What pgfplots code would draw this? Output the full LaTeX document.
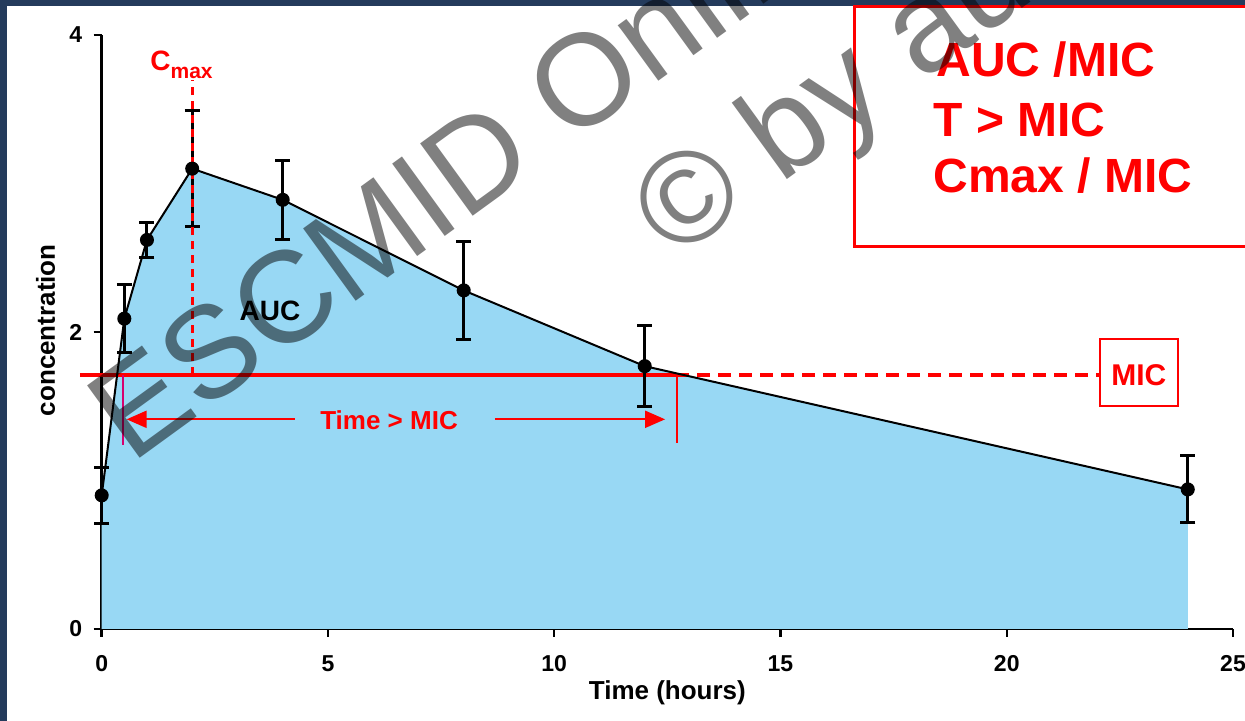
\documentclass[border=0pt]{standalone}
\usepackage{pgfplots}
\pgfplotsset{compat=1.18}
\usepackage{pgfplotstable}
\usepackage{fontspec}
\setmainfont{Liberation Sans}
\usetikzlibrary{arrows.meta}

\definecolor{frameblue}{RGB}{36,59,92}
\definecolor{aucfill}{RGB}{152,216,244}
\definecolor{pkred}{RGB}{255,0,0}
\definecolor{micmag}{RGB}{214,0,110}
\definecolor{wmgray}{RGB}{128,128,128}

% plasma concentration: time (h), mean, error
\pgfplotstableread{
t    conc  err
0    0.90  0.19
0.5  2.09  0.23
1    2.62  0.115
2    3.10  0.39
4    2.89  0.265
8    2.28  0.33
12   1.77  0.275
24   0.94  0.225
}\pkdata

\newcommand{\mic}{1.71}

\begin{document}
\begin{tikzpicture}
\begin{scope}[x=0.5pt,y=0.5pt]
  \fill[frameblue] (0,0) rectangle (1245,721);
  \fill[white] (7,0) rectangle (1245,715);
\end{scope}

\begin{axis}[
  at={(50.85pt,46pt)}, anchor=south west,
  scale only axis, width=565.65pt, height=297pt,
  xmin=0, xmax=25, ymin=0, ymax=4,
  axis lines*=left,
  axis line style={line width=1.25pt, black},
  xtick={0,5,...,25}, ytick={0,2,4},
  tick align=outside, major tick length=4pt,
  every tick/.style={black, line width=1.25pt},
  /pgf/number format/assume math mode=true,
  tick label style={font=\bfseries\fontsize{11.5}{12}\selectfont},
  xticklabel style={anchor=center, inner sep=0pt, yshift=-13.25pt},
  yticklabel style={anchor=east, inner sep=0pt, xshift=-5.6pt},
  xlabel={Time (hours)},
  ylabel={concentration},
  every axis x label/.style={at={(axis description cs:0.5,-0.107)}, anchor=center, font=\bfseries\fontsize{13}{14}\selectfont},
  every axis y label/.style={at={(axis description cs:-0.0497,0.503)}, anchor=center, rotate=90, font=\bfseries\fontsize{13}{14}\selectfont},
  clip=false,
]
  % area under the curve
  \addplot[fill=aucfill, draw=none] table[x=t, y=conc]{\pkdata} \closedcycle;

  % MIC level and time above it
  \draw[pkred, line width=1.75pt] (axis cs:-0.48,\mic) -- (axis cs:12.7,\mic);
  \draw[pkred, line width=1.75pt, dash pattern=on 6.5pt off 4pt] (axis cs:12.7,\mic) -- (axis cs:22.06,\mic);
  \draw[micmag, line width=0.75pt] (axis cs:0.47,\mic) -- (axis cs:0.47,1.239);
  \draw[pkred, line width=1pt] (axis cs:12.71,\mic) -- (axis cs:12.71,1.2525);
  \draw[pkred, line width=1pt, -{Triangle[length=10pt, width=8.5pt]}] (axis cs:4.27,1.412) -- (axis cs:0.55,1.412);
  \draw[pkred, line width=1pt, -{Triangle[length=10pt, width=8.5pt]}] (axis cs:8.69,1.412) -- (axis cs:12.45,1.412);
  \node[pkred, font=\bfseries\fontsize{13}{14}\selectfont, anchor=center] at (axis cs:6.35,1.407) {Time > MIC};

  % concentration profile with error bars
  \addplot[black, line width=1pt, mark=*, mark size=3pt,
    error bars/.cd, y dir=both, y explicit,
    error bar style={line width=1.5pt, black},
    error mark options={rotate=90, mark size=3.75pt, line width=1.5pt, black}]
    table[x=t, y=conc, y error=err]{\pkdata};

  % Cmax marker
  \draw[pkred, line width=1.5pt, dash pattern=on 4pt off 3pt] (axis cs:2,\mic) -- (axis cs:2,3.70);
  \node[pkred, font=\bfseries\fontsize{14}{14}\selectfont, anchor=base west, inner sep=0pt] at (axis cs:1.067,3.764)
    {C\raisebox{-4pt}{\fontsize{10.5}{10}\selectfont max}};

  \node[black, font=\bfseries\fontsize{14}{14}\selectfont, anchor=center] at (axis cs:3.72,2.141) {AUC};

  % MIC label box
  \draw[pkred, line width=1pt] (axis cs:22.06,1.502) rectangle (axis cs:23.78,1.953);
  \node[pkred, font=\bfseries\fontsize{15}{15}\selectfont, anchor=center] at (axis cs:22.92,1.71) {MIC};
\end{axis}

\begin{scope}[x=0.5pt,y=0.5pt]
  \clip (0,0) rectangle (1245,721);
  % PK/PD indices box
  \draw[pkred, line width=1.5pt] (854,714.3) rectangle (1262,474.3);
  \begin{scope}[font=\bfseries\fontsize{24}{24}\selectfont, pkred]
    \node[anchor=base west, inner sep=0pt] at (936,644) {AUC /MIC};
    \node[anchor=base west, inner sep=0pt] at (933,584) {T > MIC};
    \node[anchor=base west, inner sep=0pt] at (933,528) {Cmax / MIC};
  \end{scope}
  % watermark
  \begin{scope}[blend mode=multiply]
    \node[wmgray, font=\fontsize{65}{65}\selectfont, rotate=36, anchor=base west, inner sep=0pt] at (131.4,256.6) {ESCMID Online Lecture Library};
    \node[wmgray, font=\fontsize{65}{65}\selectfont, rotate=36, anchor=base west, inner sep=0pt] at (673.9,458.9) {© by author};
  \end{scope}
\end{scope}

\pgfresetboundingbox
\path[use as bounding box] (0,0) rectangle (622.5pt,360.5pt);
\end{tikzpicture}
\end{document}
